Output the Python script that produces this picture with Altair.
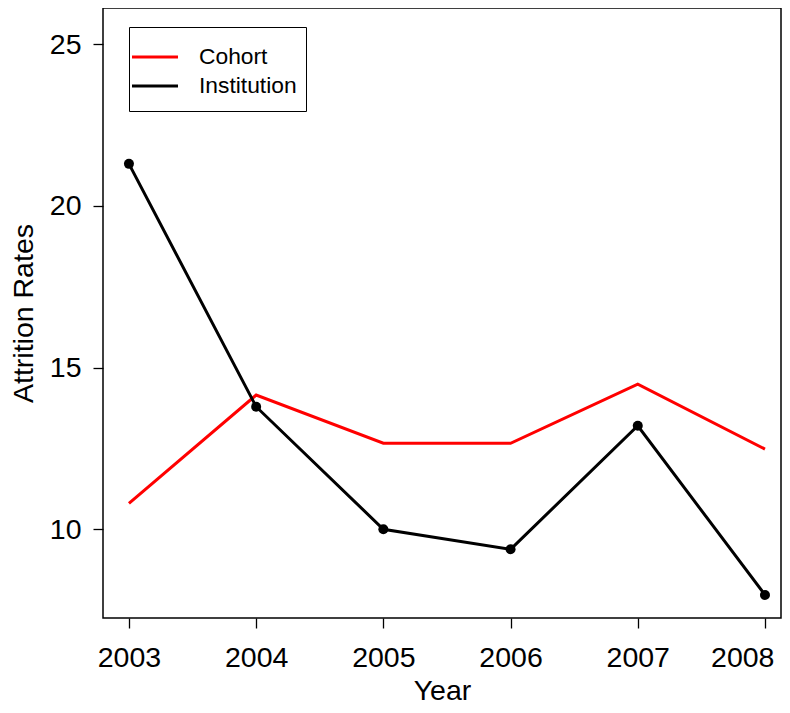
import altair as alt
import pandas as pd

years = [2003, 2004, 2005, 2006, 2007, 2008]
cohort = [10.80, 14.15, 12.66, 12.66, 14.49, 12.48]
institution = [21.30, 13.79, 10.00, 9.38, 13.20, 7.97]
series = ["Cohort", "Institution"]
colors = ["#ff0000", "#000000"]
y_ticks = [10, 15, 20, 25]

rows = []
for s, vals in zip(series, [cohort, institution]):
    for yr, v in zip(years, vals):
        rows.append({"Year": yr, "Rate": v, "Series": s})
df = pd.DataFrame(rows)

FONT = "Liberation Sans"

x = alt.X(
    "Year:Q",
    scale=alt.Scale(domain=[2002.796, 2008.126], nice=False, zero=False),
    axis=alt.Axis(values=years, format="d", title="Year", labelPadding=15,
                  titlePadding=5, labelFlush=20, labelFlushOffset=9,
                  labelOverlap=False),
)
y = alt.Y(
    "Rate:Q",
    scale=alt.Scale(domain=[7.256, 26.12], nice=False, zero=False),
    axis=alt.Axis(values=y_ticks, title="Attrition Rates", labelPadding=12,
                  titlePadding=11, labelFlush=False, labelOverlap=False),
)

lines = alt.Chart(df).mark_line(strokeWidth=3, clip=True).encode(
    x=x,
    y=y,
    color=alt.Color(
        "Series:N",
        scale=alt.Scale(domain=series, range=colors),
        legend=alt.Legend(
            title=" ",
            titleFontSize=8,
            titlePadding=0,
            orient="none",
            legendX=26,
            legendY=19,
            symbolType="M-2,0H2M0,0.82",
            symbolSize=529,
            symbolStrokeWidth=3,
            symbolOffset=4,
            labelFontSize=22.8,
            labelFont=FONT,
            labelOffset=31,
            rowPadding=0,
            padding=9,
            strokeColor="#000000",
            fillColor="#ffffff",
        ),
    ),
    order=alt.Order("Year:Q"),
)

points = alt.Chart(df).transform_filter(
    alt.datum.Series == "Institution"
).mark_circle(size=100, opacity=1, color="#000000").encode(x=x, y=y)

chart = alt.layer(lines, points).properties(
    width=678,
    height=610,
    autosize=alt.AutoSizeParams(type="none"),
    padding={"left": 95, "top": 0, "right": 1, "bottom": 87},
).configure_view(
    stroke="#000000", strokeWidth=1.5
).configure_axis(
    domain=False,
    grid=False,
    ticks=True,
    tickSize=10,
    tickColor="#000000",
    tickWidth=1.3,
    labelFont=FONT,
    labelFontSize=28.5,
    labelColor="#000000",
    titleFont=FONT,
    titleFontSize=28.5,
    titleFontWeight="normal",
    titleColor="#000000",
)

chart.save("out.html", embed_options={"renderer": "svg", "actions": False})
